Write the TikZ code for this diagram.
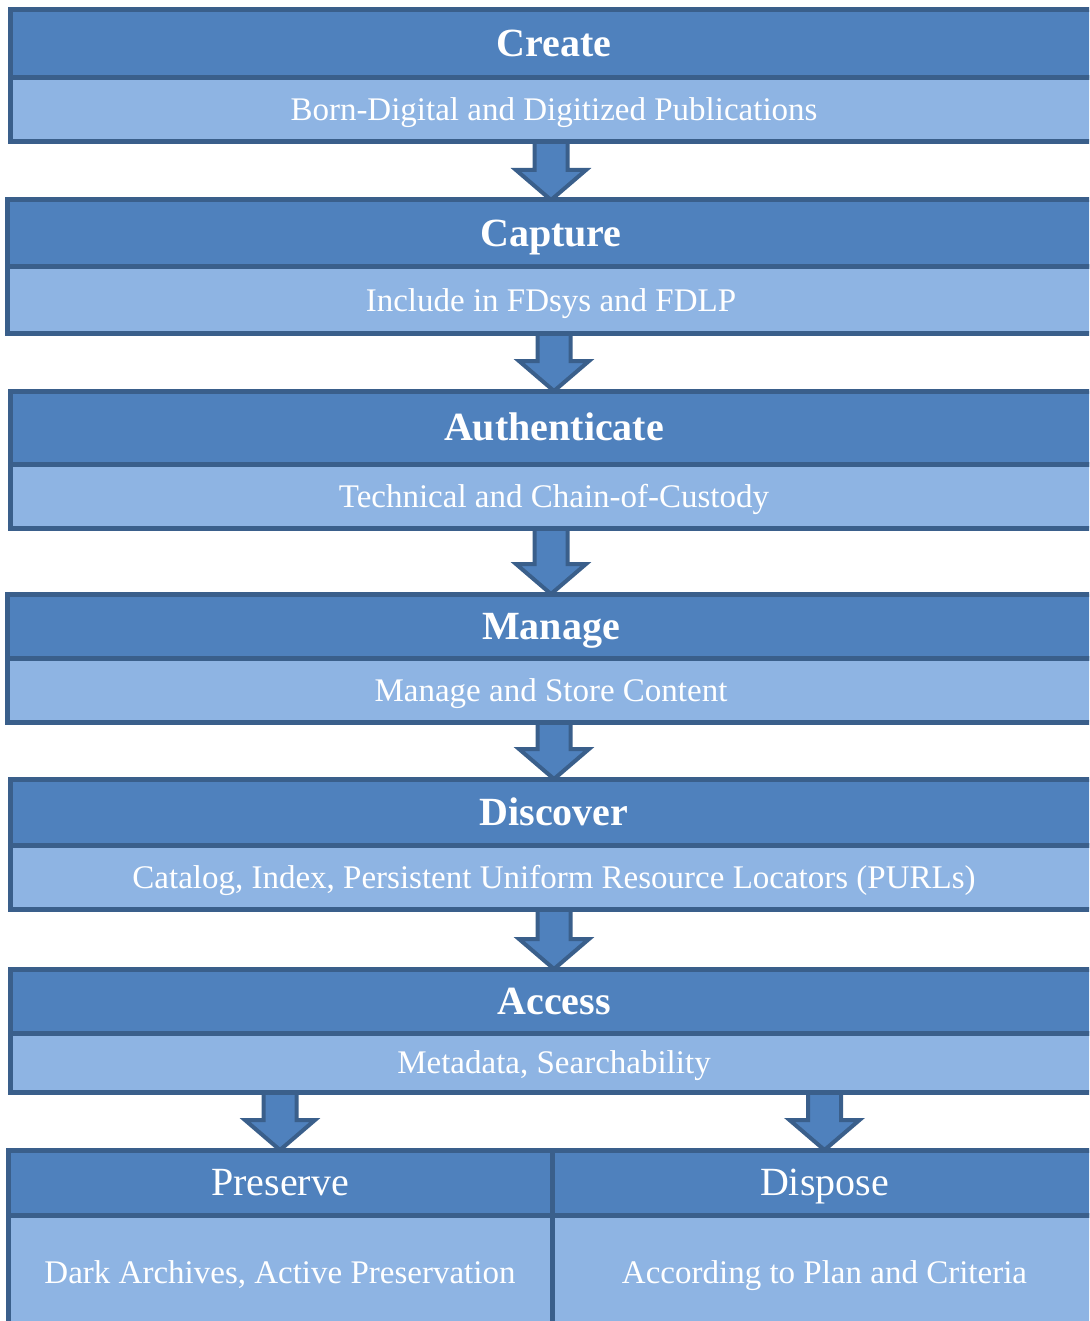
\documentclass[tikz,border=0pt]{standalone}
\usepackage{fontspec}
\setmainfont{Liberation Serif}
\usetikzlibrary{calc,backgrounds}
\definecolor{bord}{HTML}{3A5F8B}
\definecolor{dfill}{HTML}{4F81BD}
\definecolor{lfill}{HTML}{8EB4E3}
\begin{document}
\begin{tikzpicture}[x=1pt,y=-1pt,
  box/.style={draw=bord, line width=5pt, outer sep=0pt, inner sep=0pt, anchor=north west,
              minimum width=1088pt, text=white, text depth=0pt},
  hdr/.style={box, fill=dfill, font=\bfseries\fontsize{40}{42}\selectfont, text height=26pt},
  hdrl/.style={box, fill=dfill, font=\fontsize{40}{42}\selectfont, text height=26pt},
  sub/.style={box, fill=lfill, font=\fontsize{33}{36}\selectfont, text height=22pt},
  barrow/.style={draw=bord, fill=dfill, line width=4pt, line join=miter}]
\useasboundingbox (0,0) rectangle (1089,1321);
\clip (0,0) rectangle (1089,1321);

% Create
\node[hdr, minimum height=68pt] (create) at (10,10) {Create};
\node[sub, minimum height=64pt] (createsub) at (10,78) {Born-Digital and Digitized Publications};
% Capture
\node[hdr, minimum height=67pt] (capture) at (7,200) {Capture};
\node[sub, minimum height=66pt] (capturesub) at (7,267) {Include in FDsys and FDLP};
% Authenticate
\node[hdr, minimum height=73pt] (auth) at (10,391) {Authenticate};
\node[sub, minimum height=64pt] (authsub) at (10,464) {Technical and Chain-of-Custody};
% Manage
\node[hdr, minimum height=64pt] (manage) at (7,594) {Manage};
\node[sub, minimum height=64pt] (managesub) at (7,658) {Manage and Store Content};
% Discover
\node[hdr, minimum height=66pt] (discover) at (10,779) {Discover};
\node[sub, minimum height=64pt] (discoversub) at (10,845) {Catalog, Index, Persistent Uniform Resource Locators (PURLs)};
% Access
\node[hdr, minimum height=64pt] (access) at (10,969) {Access};
\node[sub, minimum height=59pt] (accesssub) at (10,1033) {Metadata, Searchability};
% Preserve / Dispose
\node[hdrl, minimum width=544pt, minimum height=65pt] (preserve) at (8,1150) {Preserve};
\node[sub, minimum width=544pt, minimum height=115pt] (preservesub) at (8,1215) {Dark Archives, Active Preservation};
\node[hdrl, minimum width=545pt, minimum height=65pt] (dispose) at (552,1150) {Dispose};
\node[sub, minimum width=545pt, minimum height=115pt] (disposesub) at (552,1215) {According to Plan and Criteria};

\begin{scope}[on background layer]
\foreach \a/\b in {createsub/capture, capturesub/auth, authsub/manage, managesub/discover,
                   discoversub/access, accesssub/preserve, accesssub/dispose}{
  \draw[barrow] let \p1=(\a.south), \p2=(\b.north) in
    (\x2-16.5pt,\y1) -- (\x2-16.5pt,\y2+30pt) -- (\x2-35pt,\y2+30pt) -- (\x2,\y2)
    -- (\x2+35pt,\y2+30pt) -- (\x2+16.5pt,\y2+30pt) -- (\x2+16.5pt,\y1) -- cycle;
}
\end{scope}
\end{tikzpicture}
\end{document}
